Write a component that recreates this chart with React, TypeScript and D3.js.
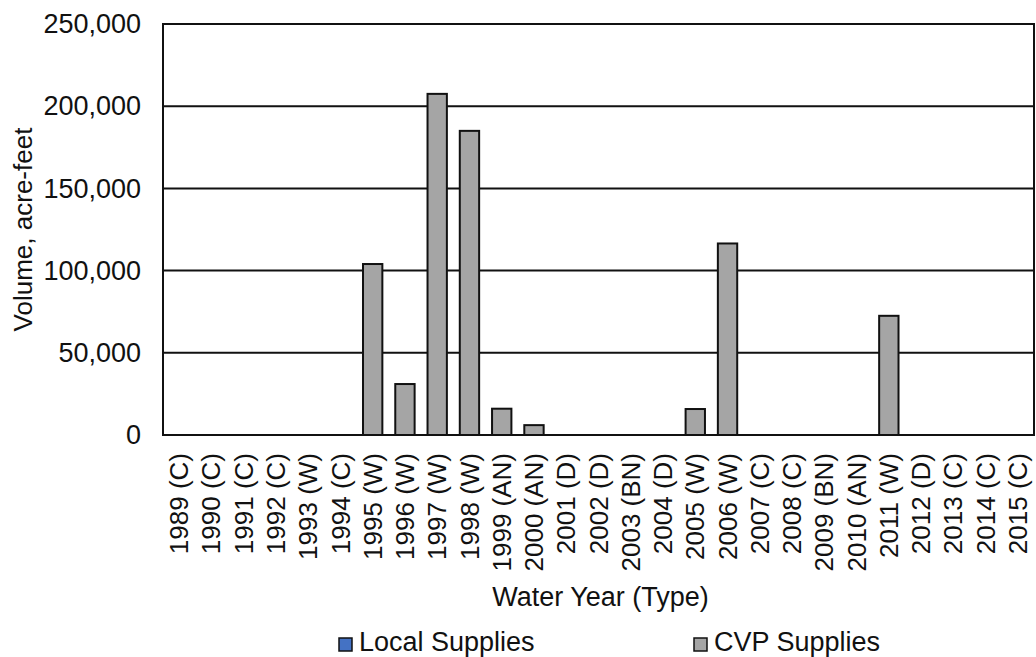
import React, { useRef, useEffect } from "react";
import * as d3 from "d3";

// Water years with year type
const years = [
  "1989 (C)", "1990 (C)", "1991 (C)", "1992 (C)", "1993 (W)", "1994 (C)",
  "1995 (W)", "1996 (W)", "1997 (W)", "1998 (W)", "1999 (AN)", "2000 (AN)",
  "2001 (D)", "2002 (D)", "2003 (BN)", "2004 (D)", "2005 (W)", "2006 (W)",
  "2007 (C)", "2008 (C)", "2009 (BN)", "2010 (AN)", "2011 (W)", "2012 (D)",
  "2013 (C)", "2014 (C)", "2015 (C)",
];

// acre-feet
const localSupplies = [
  0, 0, 0, 0, 0, 0, 0, 0, 0, 0, 0, 0, 0, 0, 0, 0, 0, 0, 0, 0, 0, 0, 0, 0, 0, 0, 0,
];
const cvpSupplies = [
  0, 0, 0, 0, 0, 0, 104000, 31000, 207500, 185000, 16000, 6000, 0, 0, 0, 0,
  15800, 116500, 0, 0, 0, 0, 72500, 0, 0, 0, 0,
];

const yTicks = [0, 50000, 100000, 150000, 200000, 250000];

const seriesNames = ["Local Supplies", "CVP Supplies"];
const seriesColors = ["#4472C4", "#A5A5A5"];

const W = 1036;
const H = 657;
const margin = { top: 24, right: 2, bottom: 222, left: 163 };
const FONT = "'Liberation Sans', Arial, sans-serif";

const App: React.FC = () => {
  const svgRef = useRef<SVGSVGElement>(null);

  useEffect(() => {
    if (!svgRef.current) return;
    const svg = d3.select(svgRef.current);
    svg.selectAll("*").remove();

    const iw = W - margin.left - margin.right;
    const ih = H - margin.top - margin.bottom;

    const x = d3.scaleBand().domain(years).range([0, iw]).paddingInner(0.4).paddingOuter(0.2);
    const y = d3.scaleLinear().domain([0, 250000]).range([ih, 0]);

    const g = svg.append("g").attr("transform", `translate(${margin.left},${margin.top})`);

    // gridlines
    g.selectAll("line.grid")
      .data(yTicks)
      .join("line")
      .attr("class", "grid")
      .attr("x1", 0)
      .attr("x2", iw)
      .attr("y1", (d) => y(d))
      .attr("y2", (d) => y(d))
      .attr("stroke", "#111")
      .attr("stroke-width", 2);

    // bars (stacked: local then CVP)
    const rows = years.map((yr, i) => ({ yr, local: localSupplies[i], cvp: cvpSupplies[i] }));
    g.selectAll("rect.cvp")
      .data(rows.filter((d) => d.cvp > 0))
      .join("rect")
      .attr("class", "cvp")
      .attr("x", (d) => x(d.yr)!)
      .attr("width", x.bandwidth())
      .attr("y", (d) => y(d.local + d.cvp))
      .attr("height", (d) => y(d.local) - y(d.local + d.cvp))
      .attr("fill", seriesColors[1])
      .attr("stroke", "#111")
      .attr("stroke-width", 2);

    g.selectAll("rect.local")
      .data(rows.filter((d) => d.local > 0))
      .join("rect")
      .attr("class", "local")
      .attr("x", (d) => x(d.yr)!)
      .attr("width", x.bandwidth())
      .attr("y", (d) => y(d.local))
      .attr("height", (d) => y(0) - y(d.local))
      .attr("fill", seriesColors[0])
      .attr("stroke", "#111")
      .attr("stroke-width", 2);

    // plot border
    g.append("rect")
      .attr("x", 0)
      .attr("y", 0)
      .attr("width", iw)
      .attr("height", ih)
      .attr("fill", "none")
      .attr("stroke", "#111")
      .attr("stroke-width", 2);

    // y axis labels
    const yAxis = g
      .append("g")
      .call(d3.axisLeft(y).tickValues(yTicks).tickFormat(d3.format(",") as any).tickSize(0).tickPadding(22));
    yAxis.select(".domain").remove();
    yAxis.selectAll("text").attr("font-family", FONT).attr("font-size", 27).attr("fill", "#111");

    // x axis labels, rotated
    const xAxis = g
      .append("g")
      .attr("transform", `translate(0,${ih})`)
      .call(d3.axisBottom(x).tickSize(0));
    xAxis.select(".domain").remove();
    xAxis
      .selectAll("text")
      .attr("font-family", FONT)
      .attr("font-size", 26)
      .attr("fill", "#111")
      .attr("text-anchor", "end")
      .attr("dy", "0.35em")
      .attr("transform", "translate(0,18) rotate(-90)")
      .attr("x", 0)
      .attr("y", 0);

    // axis titles
    svg
      .append("text")
      .attr("transform", `translate(32,${margin.top + ih / 2}) rotate(-90)`)
      .attr("text-anchor", "middle")
      .attr("font-family", FONT)
      .attr("font-size", 26)
      .attr("fill", "#111")
      .text("Volume, acre-feet");

    svg
      .append("text")
      .attr("x", margin.left + iw / 2 + 2)
      .attr("y", 606)
      .attr("text-anchor", "middle")
      .attr("font-family", FONT)
      .attr("font-size", 27)
      .attr("fill", "#111")
      .text("Water Year (Type)");

    // legend
    const legendX = [339, 694];
    seriesNames.forEach((name, i) => {
      svg
        .append("rect")
        .attr("x", legendX[i])
        .attr("y", 638)
        .attr("width", 13)
        .attr("height", 13)
        .attr("fill", seriesColors[i])
        .attr("stroke", "#111")
        .attr("stroke-width", 1.5);
      svg
        .append("text")
        .attr("x", legendX[i] + 20)
        .attr("y", 651)
        .attr("font-family", FONT)
        .attr("font-size", 27)
        .attr("fill", "#111")
        .text(name);
    });
  }, []);

  return (
    <svg
      ref={svgRef}
      width={W}
      height={H}
      style={{ position: "absolute", left: 0, top: 0, background: "#fff" }}
    />
  );
};

export default App;
